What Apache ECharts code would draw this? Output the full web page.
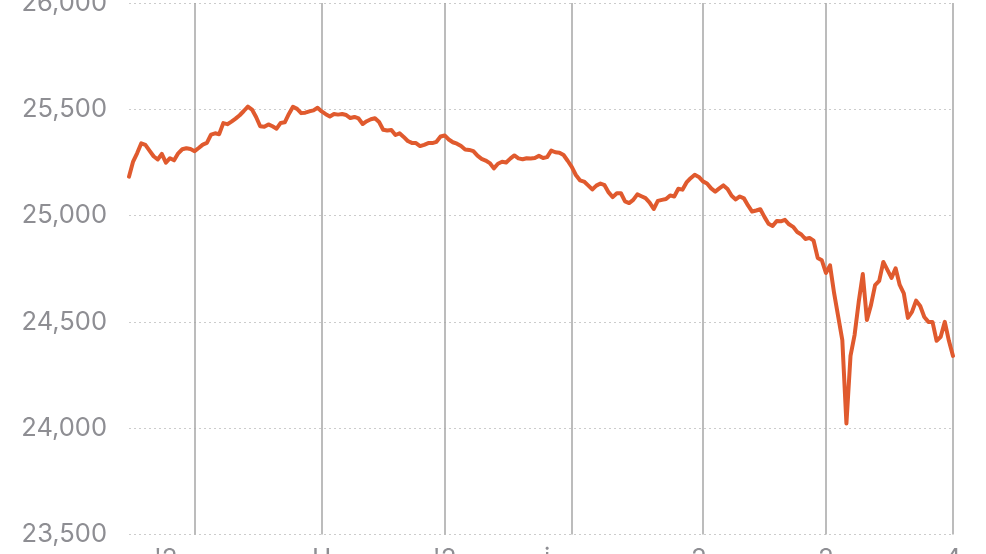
<!DOCTYPE html>
<html>
<head>
<meta charset="utf-8">
<script src="https://cdn.jsdelivr.net/npm/echarts@6/dist/echarts.min.js"></script>
<style>
html,body{margin:0;padding:0;background:#fff;}
#chart{width:986px;height:554px;}
</style>
</head>
<body>
<div id="chart"></div>
<script>
// Series values (one per step along the x axis)
var values = [
25183,25254,25294,25340,25333,25306,25279,25264,25290,25249,
25270,25260,25293,25312,25317,25313,25303,25318,25334,25342,
25381,25387,25383,25435,25430,25442,25456,25472,25492,25513,
25499,25464,25420,25418,25429,25420,25409,25436,25439,25478,
25512,25502,25482,25484,25490,25495,25507,25490,25477,25466,
25478,25475,25478,25473,25459,25464,25457,25431,25444,25453,
25458,25440,25404,25400,25403,25379,25387,25370,25351,25342,
25341,25327,25333,25341,25341,25347,25372,25377,25358,25345,
25338,25327,25311,25309,25303,25282,25267,25259,25247,25222,
25244,25253,25250,25268,25283,25269,25265,25270,25269,25271,
25281,25271,25275,25306,25298,25296,25285,25258,25229,25191,
25166,25160,25142,25123,25141,25151,25143,25109,25087,25105,
25105,25067,25059,25074,25100,25091,25082,25061,25031,25069,
25074,25078,25095,25090,25126,25122,25156,25176,25192,25182,
25161,25151,25128,25113,25128,25142,25125,25093,25076,25090,
25081,25048,25019,25024,25030,24994,24962,24951,24975,24973,
24980,24959,24947,24923,24911,24890,24895,24882,24801,24790,
24730,24766,24635,24525,24414,24022,24340,24439,24594,24725,
24509,24580,24673,24693,24782,24745,24707,24752,24674,24634,
24519,24547,24600,24575,24523,24500,24500,24411,24430,24500,
24411,24340
];
// Categories: step index
var categories = values.map(function(_, i){ return String(i); });
// Indices of the vertical reference lines
var dividerIndices = [16, 47, 77, 108, 140, 170, 201];
// Bottom tick labels (mostly cut off by the frame)
var labelIndices = [9, 47, 77, 102, 139, 170, 201];
var labelTexts = ["'2", "H", "'2", "i", "2", "2", "4"];
// Y axis ticks
var yMin = 23500, yMax = 26000, yStep = 500;

var chart = echarts.init(document.getElementById('chart'), null, {renderer: 'canvas'});
chart.setOption({
  animation: false,
  backgroundColor: '#ffffff',
  grid: {left: 129, right: 33, top: 3, bottom: 19.5, containLabel: false, outerBoundsMode: 'none'},
  xAxis: {
    type: 'category',
    data: categories,
    boundaryGap: false,
    axisLine: {show: false},
    axisTick: {show: false},
    axisLabel: {
      show: true,
      interval: function(index){ return labelIndices.indexOf(index) >= 0; },
      formatter: function(v, index){
        var p = labelIndices.indexOf(index);
        return p >= 0 ? labelTexts[p] : '';
      },
      color: '#8e8e93',
      fontSize: 26,
      fontFamily: 'Inter, "Noto Sans", sans-serif',
      margin: 12,
      hideOverlap: false
    },
    splitLine: {
      show: true,
      interval: function(index){ return dividerIndices.indexOf(index) >= 0; },
      lineStyle: {color: '#a6a6a6', width: 1.5, type: 'solid'}
    }
  },
  yAxis: {
    type: 'value',
    min: yMin,
    max: yMax,
    interval: yStep,
    axisLine: {show: false},
    axisTick: {show: false},
    axisLabel: {
      color: '#8e8e93',
      fontSize: 25.5,
      fontFamily: 'Inter, "Noto Sans", sans-serif',
      margin: 22,
      formatter: function(v){ return v.toLocaleString('en-US'); }
    },
    splitLine: {
      show: true,
      lineStyle: {color: '#cccccc', width: 1, type: [2, 3]}
    }
  },
  series: [{
    type: 'line',
    data: values,
    showSymbol: false,
    symbol: 'none',
    smooth: false,
    lineStyle: {color: '#e05a2e', width: 4, join: 'round', cap: 'round'},
    z: 3
  }]
});
</script>
</body>
</html>
